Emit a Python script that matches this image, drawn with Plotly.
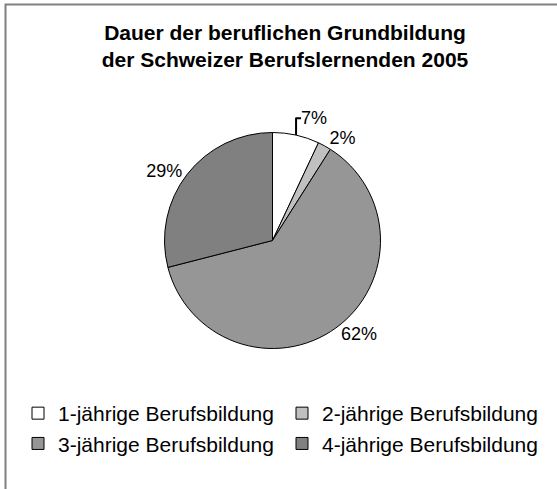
import plotly.graph_objects as go

categories = ["1-jährige Berufsbildung", "2-jährige Berufsbildung",
              "3-jährige Berufsbildung", "4-jährige Berufsbildung"]
shares = [7, 2, 62, 29]
colors = ["#FFFFFF", "#C0C0C0", "#969696", "#808080"]
title_lines = ["Dauer der beruflichen Grundbildung", "der Schweizer Berufslernenden 2005"]

W, H = 557, 489
cx, cy, r = 272.5, 240.5, 108

fig = go.Figure(go.Pie(
    labels=categories,
    values=shares,
    sort=False,
    direction="clockwise",
    rotation=0,
    marker=dict(colors=colors, line=dict(color="#000000", width=1)),
    textinfo="percent",
    textposition="outside",
    outsidetextfont=dict(family="Liberation Sans, Arial", size=18, color="#000000"),
    domain=dict(x=[(cx - r) / W, (cx + r) / W], y=[(H - cy - r) / H, (H - cy + r) / H]),
    hoverinfo="label+percent",
))

fig.update_layout(
    width=W, height=H,
    margin=dict(l=0, r=0, t=0, b=0),
    paper_bgcolor="#FFFFFF",
    plot_bgcolor="#FFFFFF",
    title=dict(
        text="<br>".join(title_lines),
        x=285 / W, xanchor="center",
        y=1 - 40 / H, yanchor="top",
        font=dict(family="Liberation Sans, Arial", size=21, color="#000000", weight="bold"),
    ),
    showlegend=True,
    legend=dict(
        orientation="h",
        x=18 / W, xanchor="left",
        y=1 - 393 / H, yanchor="top",
        font=dict(family="Liberation Sans, Arial", size=21, color="#000000"),
        traceorder="normal",
        entrywidth=219,
        itemwidth=30,
    ),
    shapes=[dict(type="rect", xref="paper", yref="paper",
                 x0=5.5 / W, x1=1.02, y0=-0.02, y1=1 - 4.5 / H,
                 line=dict(color="#808080", width=2), fillcolor="rgba(0,0,0,0)")],
)

fig.write_html("out.html",
               config={"displayModeBar": False},
               post_script="document.body.style.margin='0';document.body.style.overflow='hidden';")
